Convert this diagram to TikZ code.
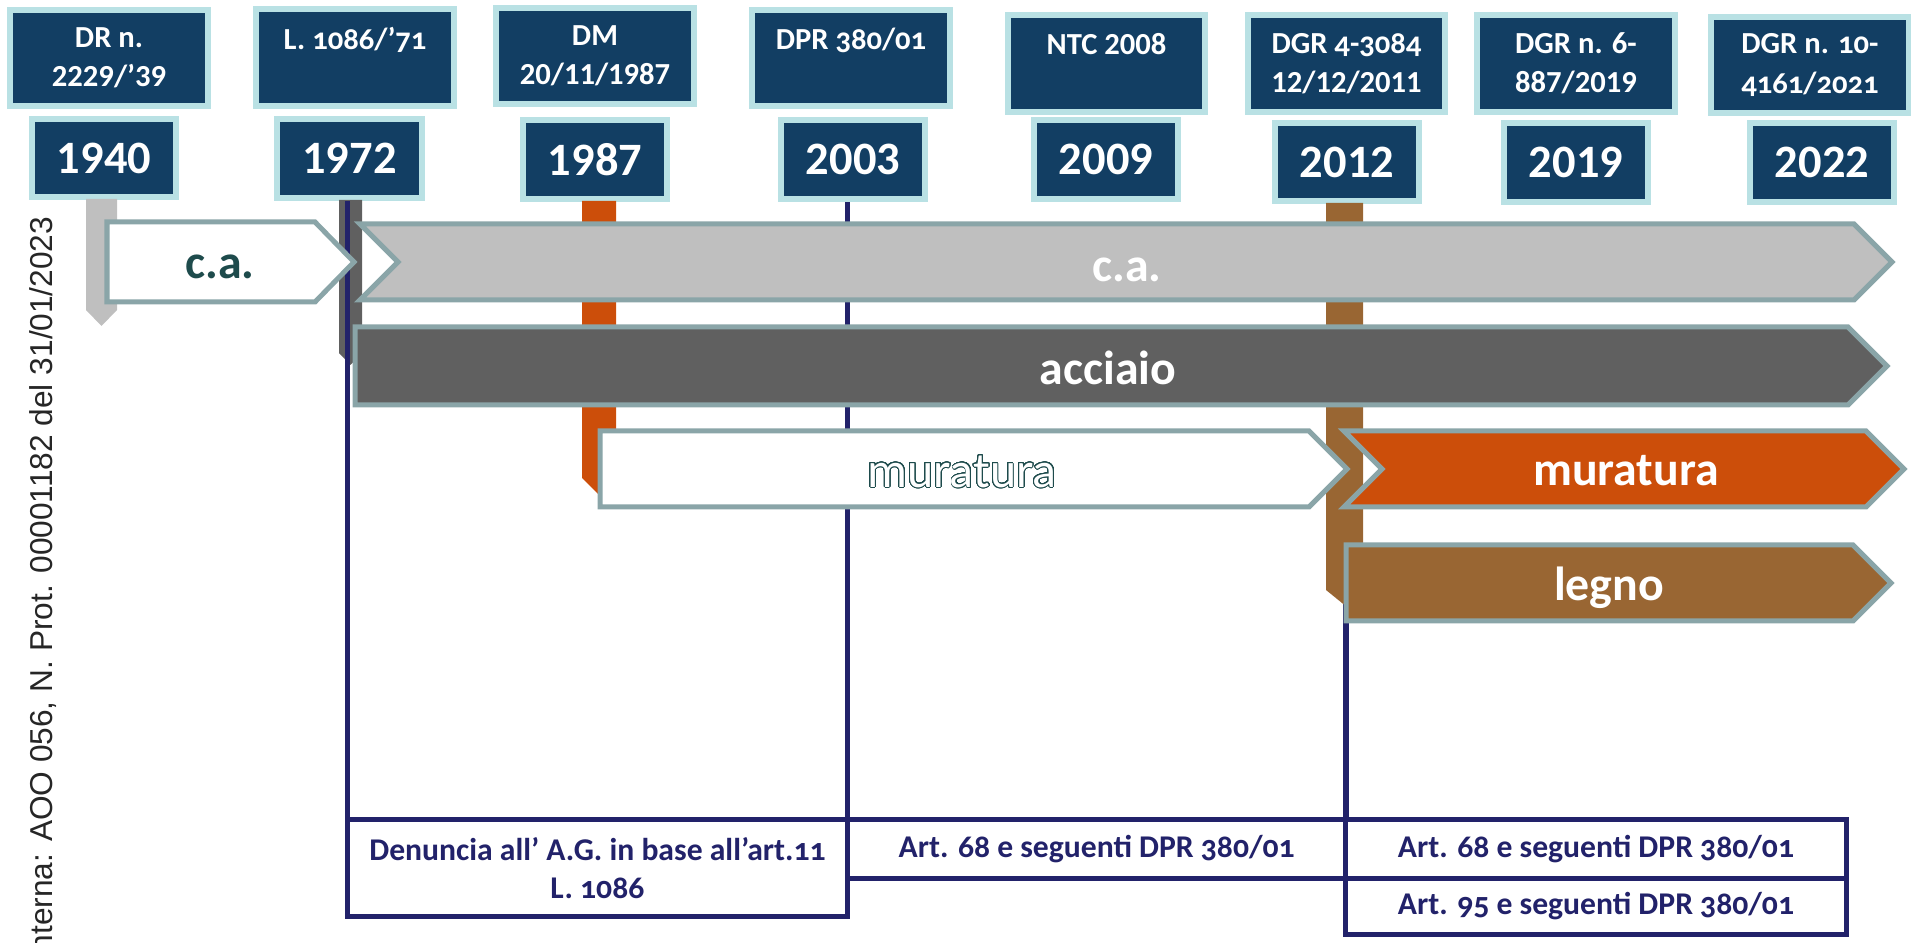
\documentclass[tikz,border=0pt]{standalone}
\usepackage{fontspec}
\setmainfont{Carlito}
\newfontfamily\oldnum{Carlito}[Numbers=OldStyle]
\newfontfamily\stampfont{Liberation Sans}
\usepackage{xcolor}
\usepackage[copies]{contour}
\usepackage{tikz}
\usetikzlibrary{positioning,calc}

\definecolor{boxnavy}{HTML}{123E63}
\definecolor{boxrim}{HTML}{B9E1E4}
\definecolor{bandrim}{HTML}{8AA5A8}
\definecolor{concretegrey}{HTML}{BFBFBF}
\definecolor{steelgrey}{HTML}{606060}
\definecolor{masonryred}{HTML}{CC4E0A}
\definecolor{timberbrown}{HTML}{996633}
\definecolor{rulenavy}{HTML}{22226A}
\definecolor{labelteal}{HTML}{1E4B4C}

\contourlength{0.25pt}
\contournumber{32}

\begin{document}
\begin{tikzpicture}[
    x=0.01cm, y=-0.01cm,
    lawbox/.style={draw=boxrim, fill=boxnavy, line width=0.06cm, minimum width=1.97cm, minimum height=0.96cm, inner sep=0pt, text=white, align=center, font=\fontsize{8.7}{11.1}\selectfont\bfseries},
    yearbox/.style={draw=boxrim, fill=boxnavy, line width=0.06cm, minimum width=1.44cm, minimum height=0.78cm, inner sep=0pt, text=white, font=\fontsize{13.2}{15}\selectfont\bfseries},
    band/.style={draw=bandrim, line width=0.05cm, line join=miter},
    bandlabel/.style={inner sep=0pt, font=\fontsize{13.6}{16}\selectfont\bfseries, text=white},
    normrule/.style={draw=rulenavy, line width=0.055cm},
    normbox/.style={draw=rulenavy, fill=white, line width=0.05cm, inner sep=0pt, outer sep=0pt, align=center, text=rulenavy, font=\fontsize{9}{10.8}\selectfont\bfseries\oldnum},
    stamptext/.style={inner sep=0pt, text=black!85, font=\stampfont\fontsize{9}{11}\selectfont}
]
\useasboundingbox (0,0) rectangle (1911,943);

% Laws (top row)
\node[lawbox] (lawdr) at (109,58) {DR n.\\2229/’39};
\node[lawbox] (lawl) at (355,57.5) {{\oldnum L. 1086/’71}\\\mbox{}};
\node[lawbox] (lawdm) at (595,56) {DM\\20/11/1987};
\node[lawbox] (lawdpr) at (851,58) {{\oldnum DPR 380/01}\\\mbox{}};
\node[lawbox] (lawntc) at (1106.5,63.5) {NTC 2008\\\mbox{}};
\node[lawbox] (lawdgra) at (1346.5,63.5) {{\oldnum DGR 4-3084}\\12/12/2011};
\node[lawbox] (lawdgrb) at (1576,63.5) {DGR n. 6-\\887/2019};
\node[lawbox] (lawdgrc) at (1810,65) {{\oldnum DGR n. 10-}\\{\oldnum 4161/2021}};

% Years
\node[yearbox] (y1940) at (104,158) {1940};
\node[yearbox] (y1972) at (349.5,158.5) {1972};
\node[yearbox] (y1987) at (595,159.5) {1987};
\node[yearbox] (y2003) at (853,159.5) {2003};
\node[yearbox] (y2009) at (1106,159.5) {2009};
\node[yearbox] (y2012) at (1347,162) {2012};
\node[yearbox] (y2019) at (1576,162.5) {2019};
\node[yearbox] (y2022) at (1822,162.5) {2022};

% Procedures (bottom row)
\node[normbox, minimum width=5cm, minimum height=0.58cm] (bart68r) at (1596,849) {Art. 68 e seguenti DPR 380/01};
\node[normbox, minimum width=5cm, minimum height=0.56cm, below=0pt of bart68r] (bart95) {Art. 95 e seguenti DPR 380/01};
\node[normbox, minimum width=4.98cm, minimum height=0.58cm, left=0pt of bart68r] (bart68m) {Art. 68 e seguenti DPR 380/01};
\node[normbox, minimum width=5cm, minimum height=0.96cm, anchor=north east] (bden) at (bart68m.north west) {Denuncia all’ A.G. in base all’art.11\\L. 1086};

% Stems under the years
\draw[normrule] (bart68r.north west) -- (bart68r.north west |- y2012.south);
\fill[concretegrey] (86,199) -- (117,199) -- (117,310) -- (101.5,326) -- (86,310) -- cycle;
\fill[steelgrey] (339,200) -- (362,200) -- (362,353) -- (350.5,365) -- (339,353) -- cycle;
\fill[masonryred] (582,201) -- (616,201) -- (616,478) -- (599,495) -- (582,478) -- cycle;
\fill[timberbrown] (1326,203) -- (1363,203) -- (1363,590) -- (1344.5,605) -- (1326,590) -- cycle;
\draw[normrule] (bden.north west) -- (bden.north west |- y1972.south);
\draw[normrule] (bden.north east) -- (bden.north east |- y2003.south);

% c.a.
\draw[band, fill=white] (107,222) -- (315,222) -- (354,262) -- (315,302) -- (107,302) -- cycle;
\draw[band, fill=concretegrey] (360,224) -- (1854,224) -- (1892,262) -- (1854,300) -- (360,300) -- (398,262) -- cycle;
\node[bandlabel, text=labelteal] (lblca) at (220,267) {c.a.};
\node[bandlabel] (lblcabig) at (1127,270) {c.a.};

% acciaio
\draw[band, fill=steelgrey] (355,327) -- (1848,327) -- (1887,366) -- (1848,405) -- (355,405) -- cycle;
\node[bandlabel] (lblacc) at (1108,368) {acciaio};

% muratura
\draw[band, fill=white] (600,431) -- (1309,431) -- (1347,469) -- (1309,507) -- (600,507) -- cycle;
\draw[band, fill=masonryred] (1344,431) -- (1866,431) -- (1904,469) -- (1866,507) -- (1344,507) -- (1382,469) -- cycle;
\node[inner sep=0pt, text=white, font=\fontsize{14.2}{16}\selectfont] (lblmurold) at (962,472) {\contour{labelteal}{muratura}};
\node[bandlabel] (lblmur) at (1626,471) {muratura};

% legno
\draw[band, fill=timberbrown] (1346,545) -- (1853,545) -- (1891,583) -- (1853,621) -- (1346,621) -- cycle;
\node[bandlabel] (lblleg) at (1609,588) {legno};

% Protocol stamp
\node[stamptext, rotate=90, anchor=base east] (prot) at (53,216) {nterna: AOO 056, N. Prot. 00001182 del 31/01/2023};

\end{tikzpicture}
\end{document}
